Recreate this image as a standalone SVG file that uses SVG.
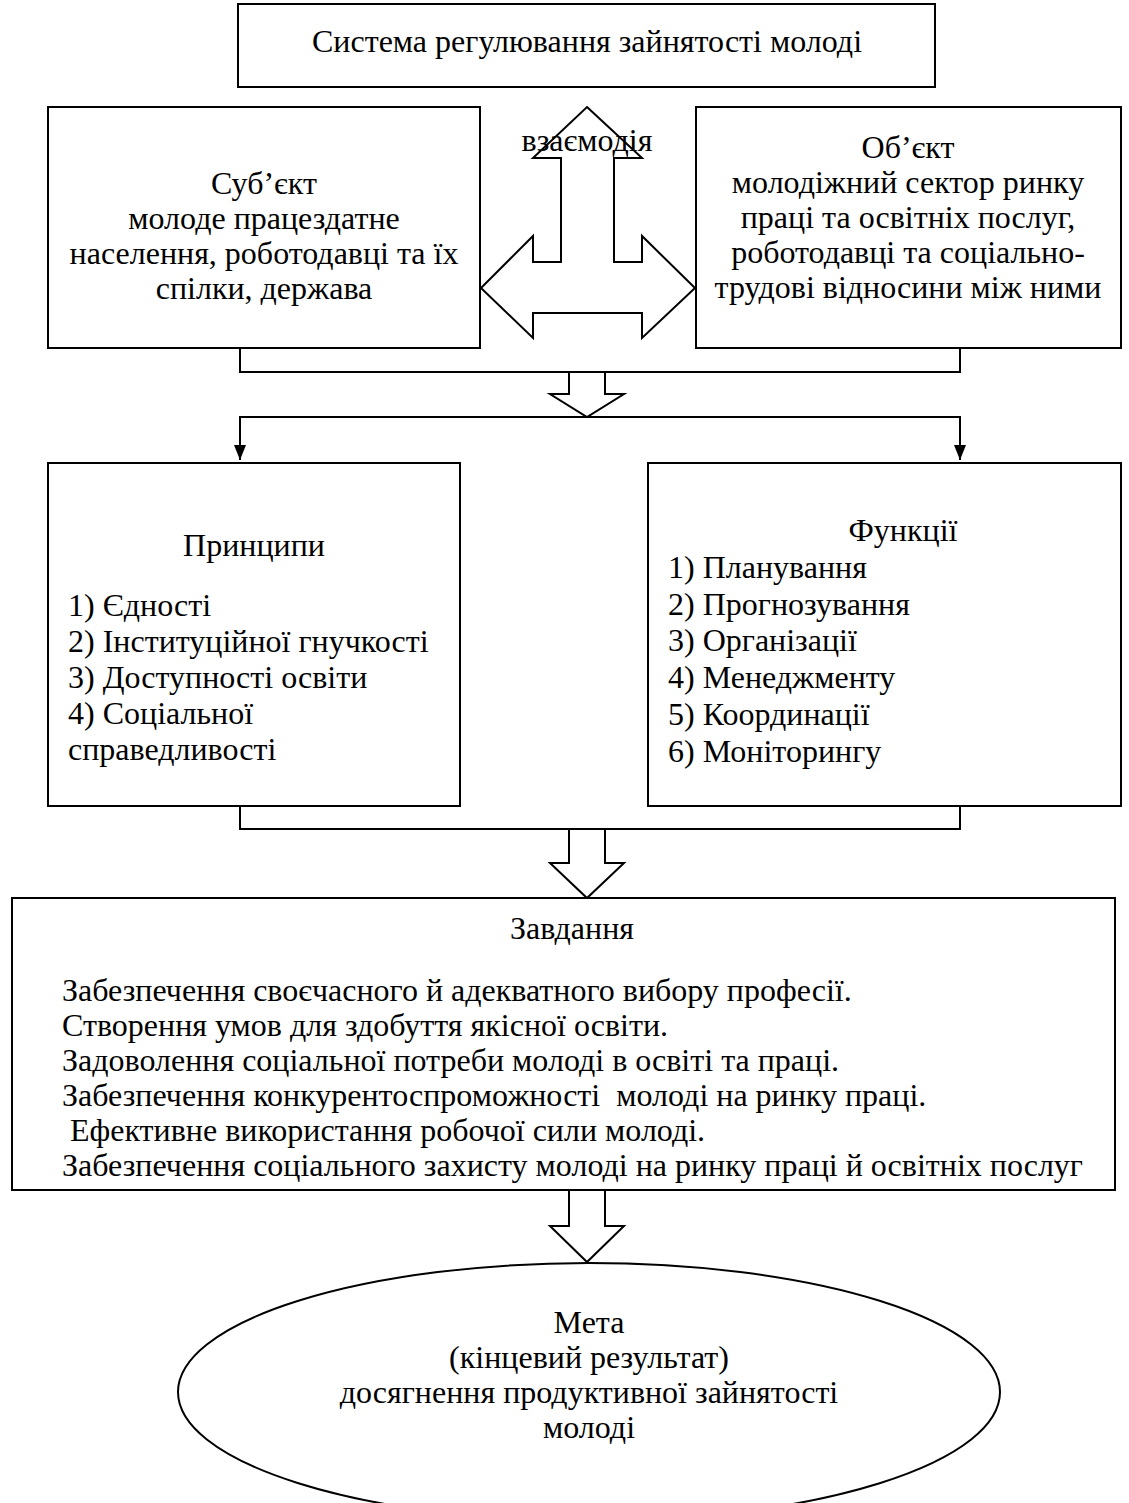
<svg xmlns="http://www.w3.org/2000/svg" width="1129" height="1503" viewBox="0 0 1129 1503">
<defs>
<style>
.box{fill:#fff;stroke:#000;stroke-width:2}
.ln{fill:none;stroke:#000;stroke-width:2}
.harrow{fill:#fff;stroke:#000;stroke-width:2;stroke-linejoin:miter}
text{font-family:"Liberation Serif","Times New Roman",serif;font-size:32px;fill:#000}
.c{text-anchor:middle}
</style>
<marker id="ah" markerWidth="14" markerHeight="16" refX="7" refY="15" orient="0" markerUnits="userSpaceOnUse">
<path d="M1,0 L13,0 L7,15 Z" fill="#000"/>
</marker>
</defs>
<rect width="1129" height="1503" fill="#fff"/>

<g id="connectors">
<path class="ln" d="M240,348 V372 H960 V348"/>
<polygon class="harrow" points="569,372 605,372 605,394 624,394 587,417 550,394 569,394"/>
<path class="ln" d="M587,417 H240 V460" marker-end="url(#ah)"/>
<path class="ln" d="M587,417 H960 V460" marker-end="url(#ah)"/>
<path class="ln" d="M240,806 V829 H960 V806"/>
<polygon class="harrow" points="569,829 605,829 605,863 624,863 587,898 550,863 569,863"/>
<polygon class="harrow" points="569,1190 605,1190 605,1226 624,1226 587,1262 550,1226 569,1226"/>
<polygon class="harrow" points="587,107 642,158 614,158 614,262 642,262 642,236 695,288 642,338 642,313 533,313 533,338 481,288 533,236 533,262 561,262 561,158 533,158"/>
<text class="c" x="587" y="151">взаємодія</text>
</g>

<g id="system">
<rect class="box" x="238" y="4" width="697" height="83"/>
<text class="c" x="587" y="52">Система регулювання зайнятості молоді</text>
</g>

<g id="subject">
<rect class="box" x="48" y="107" width="432" height="241"/>
<text class="c" x="264" y="194">Суб’єкт</text>
<text class="c" x="264" y="229">молоде працездатне</text>
<text class="c" x="264" y="264">населення, роботодавці та їх</text>
<text class="c" x="264" y="299">спілки, держава</text>
</g>

<g id="object">
<rect class="box" x="696" y="107" width="425" height="241"/>
<text class="c" x="908" y="158">Об’єкт</text>
<text class="c" x="908" y="193">молодіжний сектор ринку</text>
<text class="c" x="908" y="228">праці та освітніх послуг,</text>
<text class="c" x="908" y="263">роботодавці та соціально-</text>
<text class="c" x="908" y="298">трудові відносини між ними</text>
</g>

<g id="principles">
<rect class="box" x="48" y="463" width="412" height="343"/>
<text class="c" x="254" y="556">Принципи</text>
<text x="68" y="616">1) Єдності</text>
<text x="68" y="652">2) Інституційної гнучкості</text>
<text x="68" y="688">3) Доступності освіти</text>
<text x="68" y="724">4) Соціальної</text>
<text x="68" y="760">справедливості</text>
</g>

<g id="functions">
<rect class="box" x="648" y="463" width="473" height="343"/>
<text class="c" x="903" y="541">Функції</text>
<text x="668" y="578">1) Планування</text>
<text x="668" y="615">2) Прогнозування</text>
<text x="668" y="651">3) Організації</text>
<text x="668" y="688">4) Менеджменту</text>
<text x="668" y="725">5) Координації</text>
<text x="668" y="762">6) Моніторингу</text>
</g>

<g id="tasks">
<rect class="box" x="12" y="898" width="1103" height="292"/>
<text class="c" x="572" y="939">Завдання</text>
<text x="62" y="1001" xml:space="preserve">Забезпечення своєчасного й адекватного вибору професії.</text>
<text x="62" y="1036" xml:space="preserve">Створення умов для здобуття якісної освіти.</text>
<text x="62" y="1071" xml:space="preserve">Задоволення соціальної потреби молоді в освіті та праці.</text>
<text x="62" y="1106" xml:space="preserve">Забезпечення конкурентоспроможності  молоді на ринку праці.</text>
<text x="62" y="1141" xml:space="preserve"> Ефективне використання робочої сили молоді.</text>
<text x="62" y="1176" xml:space="preserve">Забезпечення соціального захисту молоді на ринку праці й освітніх послуг</text>
</g>

<g id="goal">
<ellipse class="box" cx="589" cy="1392" rx="411" ry="129"/>
<text class="c" x="589" y="1333">Мета</text>
<text class="c" x="589" y="1368">(кінцевий результат)</text>
<text class="c" x="589" y="1403">досягнення продуктивної зайнятості</text>
<text class="c" x="589" y="1438">молоді</text>
</g>
</svg>
